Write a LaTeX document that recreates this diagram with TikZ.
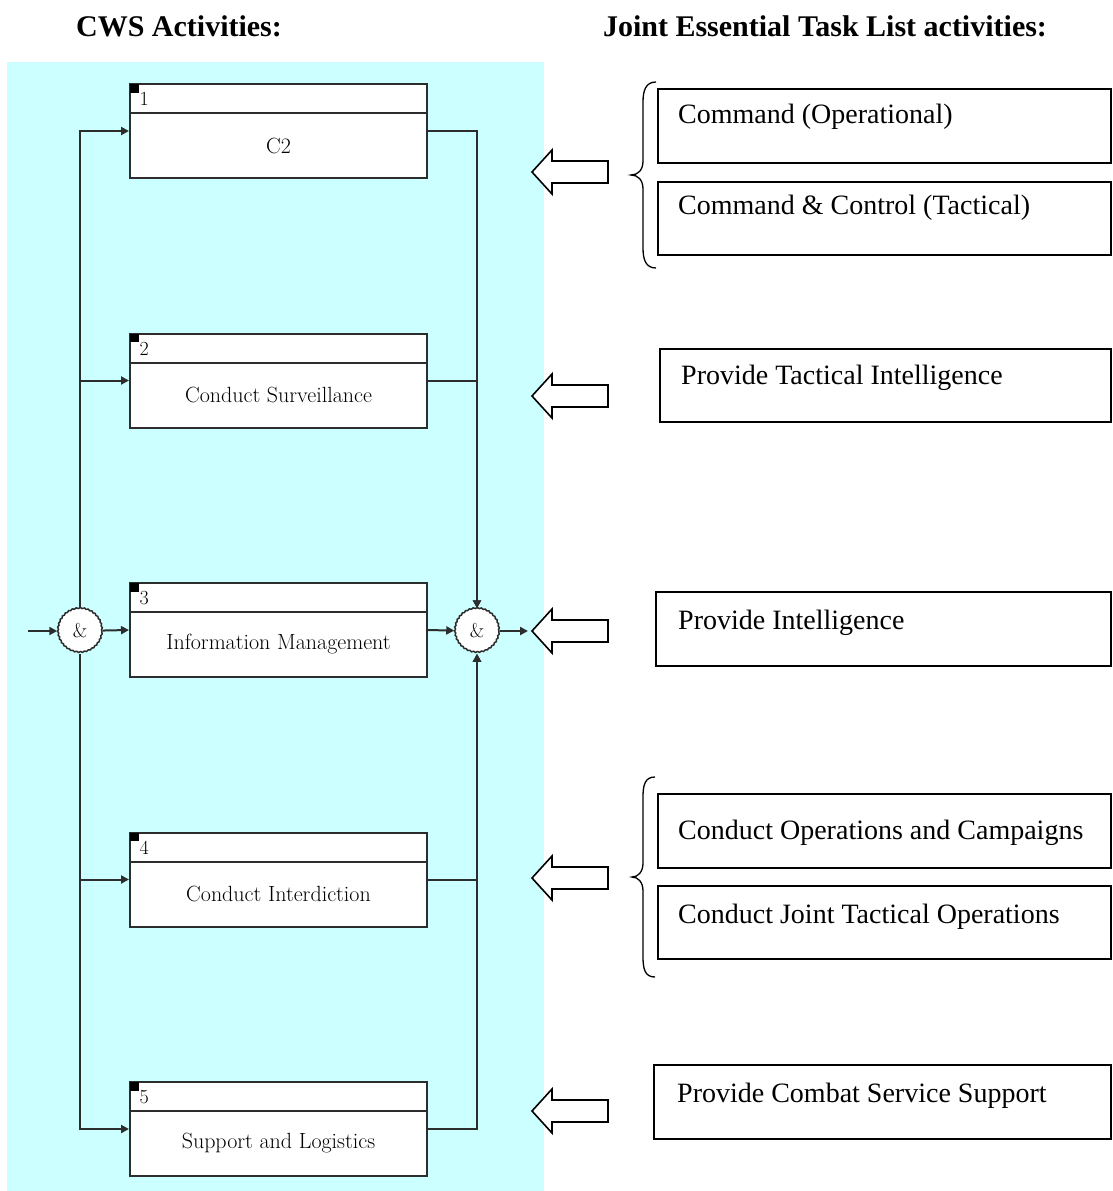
\documentclass[tikz,border=0pt]{standalone}
\usepackage{fontspec}
\newfontfamily\tnr{Liberation Serif}
\usetikzlibrary{arrows.meta,decorations.pathmorphing}
\definecolor{cyanbg}{RGB}{204,255,255}
\definecolor{ln}{RGB}{45,45,45}
\begin{document}
\begin{tikzpicture}[x=1pt,y=-1pt,
  conn/.style={draw=ln,line width=2pt},
  arr/.style={conn,-{Triangle[length=8pt,width=8pt]}},
  hdbox/.style={draw=ln,line width=2pt,fill=white,minimum width=297pt,minimum height=29pt,inner sep=0pt,anchor=north west},
  bodybox/.style={draw=ln,line width=2pt,fill=white,minimum width=297pt,minimum height=65pt,inner sep=0pt,anchor=north west,font=\fontsize{22}{26}\selectfont},
  andnode/.style={circle,draw=ln,line width=1.5pt,fill=white,minimum size=44pt,inner sep=0pt,font=\fontsize{20}{24}\selectfont,decorate,decoration={snake,amplitude=0.5pt,segment length=4pt}},
  jbox/.style={draw=black,line width=2pt,inner sep=0pt,anchor=north west},
  jtext/.style={anchor=west,inner sep=0pt,font=\tnr\fontsize{28}{32}\selectfont},
  title/.style={inner sep=0pt,font=\tnr\bfseries\fontsize{30}{36}\selectfont},
  hollow/.style={draw=black,line width=1.6pt,fill=white,line join=miter}
]
\useasboundingbox (0,0) rectangle (1112,1191);
\fill[cyanbg] (7,62) rectangle (544,1191);

\node[title] (t1) at (179,26) {CWS Activities:};
\node[title] (t2) at (825,26) {Joint Essential Task List activities:};

% left activity boxes
\foreach \i/\top/\lab in {1/83/C2,2/332.5/Conduct Surveillance,3/582/Information Management,4/831.5/Conduct Interdiction,5/1081/Support and Logistics}{
  \node[hdbox] (h\i) at (129,\top) {};
  \node[bodybox] (b\i) at (129,\top+29) {\lab};
  \fill[black] (130,\top+1) rectangle (138.5,\top+9.5);
  \node[anchor=west,inner sep=0pt,font=\fontsize{20}{24}\selectfont] (n\i) at (139.5,\top+16) {\i};
  \coordinate (bi\i) at (129,\top+48);
  \coordinate (bo\i) at (426,\top+48);
}

\node[andnode] (andL) at (80,631) {\&};
\node[andnode] (andR) at (477,631) {\&};
\coordinate (inp) at (28,631);
\coordinate (outp) at (528,631);

\draw[arr] (inp) -- (andL);
\draw[arr] (andL) -- (bi3);
\foreach \i in {1,2,4,5}{\draw[arr] (andL) |- (bi\i);}
\draw[arr] (bo3) -- (andR);
\foreach \i in {1,2,4,5}{\draw[arr] (bo\i) -| (andR);}
\draw[arr] (andR) -- (outp);

% hollow arrows
\foreach \k/\y in {1/172,2/396,3/631,4/878,5/1111}{
  \draw[hollow] (532,\y) -- (552,\y-22) -- (552,\y-11) -- (608,\y-11) -- (608,\y+11) -- (552,\y+11) -- (552,\y+22) -- cycle;
}

% braces
\draw[line width=1.3pt] (656,82) .. controls (646,82) and (643,90) .. (643,102) -- (643,161) .. controls (643,170) and (638,175) .. (631,175) .. controls (638,175) and (643,180) .. (643,189) -- (643,248) .. controls (643,260) and (646,268) .. (656,268);
\draw[line width=1.3pt] (655,777) .. controls (645,777) and (643,785) .. (643,797) -- (643,863) .. controls (643,872) and (638,877) .. (632,877) .. controls (638,877) and (643,882) .. (643,891) -- (643,957) .. controls (643,969) and (645,977) .. (655,977);

% JETL boxes
\draw[jbox] (658,89) rectangle (1111,163);
\node[jtext] (j1) at (678,117) {Command (Operational)};
\draw[jbox] (658,182) rectangle (1111,255);
\node[jtext] (j2) at (678,208) {Command \& Control (Tactical)};
\draw[jbox] (660,349) rectangle (1111,422);
\node[jtext] (j3) at (681,378) {Provide Tactical Intelligence};
\draw[jbox] (656,592) rectangle (1111,666);
\node[jtext] (j4) at (678,623) {Provide Intelligence};
\draw[jbox] (658,794) rectangle (1111,868);
\node[jtext] (j5) at (678,833) {Conduct Operations and Campaigns};
\draw[jbox] (658,886) rectangle (1111,959);
\node[jtext] (j6) at (678,917) {Conduct Joint Tactical Operations};
\draw[jbox] (654,1065) rectangle (1111,1139);
\node[jtext] (j7) at (677,1096) {Provide Combat Service Support};
\end{tikzpicture}
\end{document}
